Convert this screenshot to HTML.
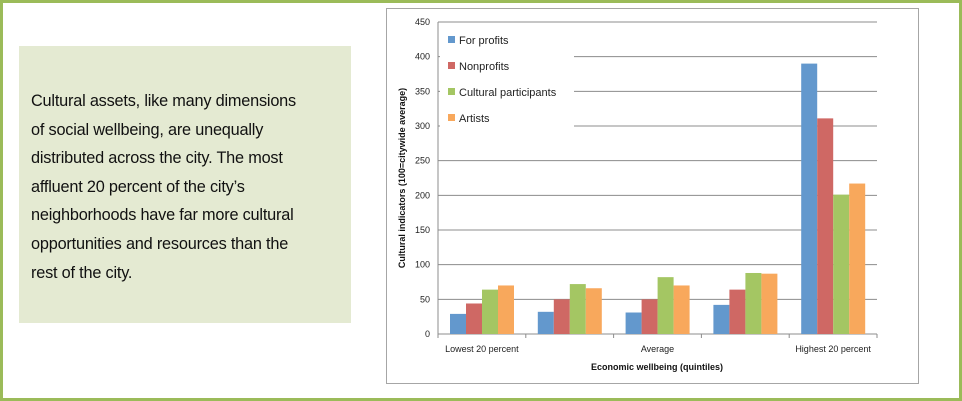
<!DOCTYPE html>
<html><head><meta charset="utf-8"><style>
body{margin:0;width:962px;height:401px;overflow:hidden;background:#fff;font-family:"Liberation Sans",sans-serif}
#frame{position:absolute;left:0;top:0;width:956px;height:395px;border:3px solid #9bbb59}
#tb{position:absolute;left:19px;top:46px;width:332px;height:277px;background:#e4ead2}
#tb p{margin:0;position:absolute;left:12px;top:41px;font-size:16.3px;line-height:28.6px;color:#111;width:320px;white-space:nowrap;letter-spacing:-0.2px}
#cb{position:absolute;left:386px;top:8px;width:531px;height:374px;border:1px solid #a6a6a6;background:#fff}
</style></head><body>
<div id="frame"></div>
<div id="tb"><p>Cultural assets, like many dimensions<br>of social wellbeing, are unequally<br>distributed across the city. The most<br>affluent 20 percent of the city’s<br>neighborhoods have far more cultural<br>opportunities and resources than the<br>rest of the city.</p></div>
<div id="cb"></div>
<svg id="chart" width="962" height="401" style="position:absolute;left:0;top:0"></svg>
<script>
const categories=["Lowest 20 percent","","Average","","Highest 20 percent"];
const seriesNames=["For profits","Nonprofits","Cultural participants","Artists"];
const colors=["#6398cd","#cf6864","#a4c663","#f8a85c"];
const forProfits=[29,32,31,42,390];
const nonprofits=[44,50,50,64,311];
const participants=[64,72,82,88,201];
const artists=[70,66,70,87,217];
const yTicks=[0,50,100,150,200,250,300,350,400,450];
const series=[forProfits,nonprofits,participants,artists];
const svg=document.getElementById('chart');const NS="http://www.w3.org/2000/svg";
const X0=438,X1=877,Y0=334,Y1=22,YMAX=450;
const y=v=>Y0-(v/YMAX)*(Y0-Y1);
const cw=(X1-X0)/categories.length;
function mk(t,a,txt){const e=document.createElementNS(NS,t);for(const k in a)e.setAttribute(k,a[k]);if(txt!=null)e.textContent=txt;svg.appendChild(e);return e;}
yTicks.forEach(t=>{
 if(t>0){const g=mk('line',{x1:X0,x2:X1,y1:y(t),y2:y(t),stroke:'#8c8c8c','stroke-width':1});
 
 }
 const l=mk('text',{x:X0-8,y:y(t)+3,'font-size':9,'text-anchor':'end',fill:'#222'},t);
 
 
});
const ax=mk('line',{x1:X0,x2:X0,y1:Y1,y2:Y0,stroke:'#8c8c8c'});


const xa=mk('line',{x1:X0,x2:X1,y1:Y0,y2:Y0,stroke:'#8c8c8c'});


for(let i=0;i<=categories.length;i++){const tk=mk('line',{x1:X0+i*cw,x2:X0+i*cw,y1:Y0,y2:Y0+4,stroke:'#8c8c8c'});
 
 }
const bw=16,off=12;
series.forEach((s,si)=>s.forEach((v,ci)=>{
 const r=mk('rect',{x:X0+ci*cw+off+si*bw,y:y(v),width:bw,height:Y0-y(v),fill:colors[si]});
 
 
}));
categories.forEach((c,ci)=>{if(!c)return;const t=mk('text',{x:X0+ci*cw+cw/2,y:352,'font-size':9,'text-anchor':'middle',fill:'#222'},c);
 
 });
const xt=mk('text',{x:657,y:370,'font-size':9,'font-weight':'bold','text-anchor':'middle',fill:'#111'},'Economic wellbeing (quintiles)');


const yt=mk('text',{x:0,y:0,'font-size':9,'font-weight':'bold','text-anchor':'middle',fill:'#111',transform:'translate(405,178) rotate(-90)'},'Cultural indicators (100=citywide average)');


const lb=mk('rect',{x:440,y:28,width:134,height:104,fill:'#fff'});


seriesNames.forEach((n,i)=>{
 const sw=mk('rect',{x:448,y:36+i*26,width:7,height:7,fill:colors[i]});
 
 
 const t=mk('text',{x:459,y:44+i*26,'font-size':11,fill:'#222'},n);
 
 
});
</script>
</body></html>
